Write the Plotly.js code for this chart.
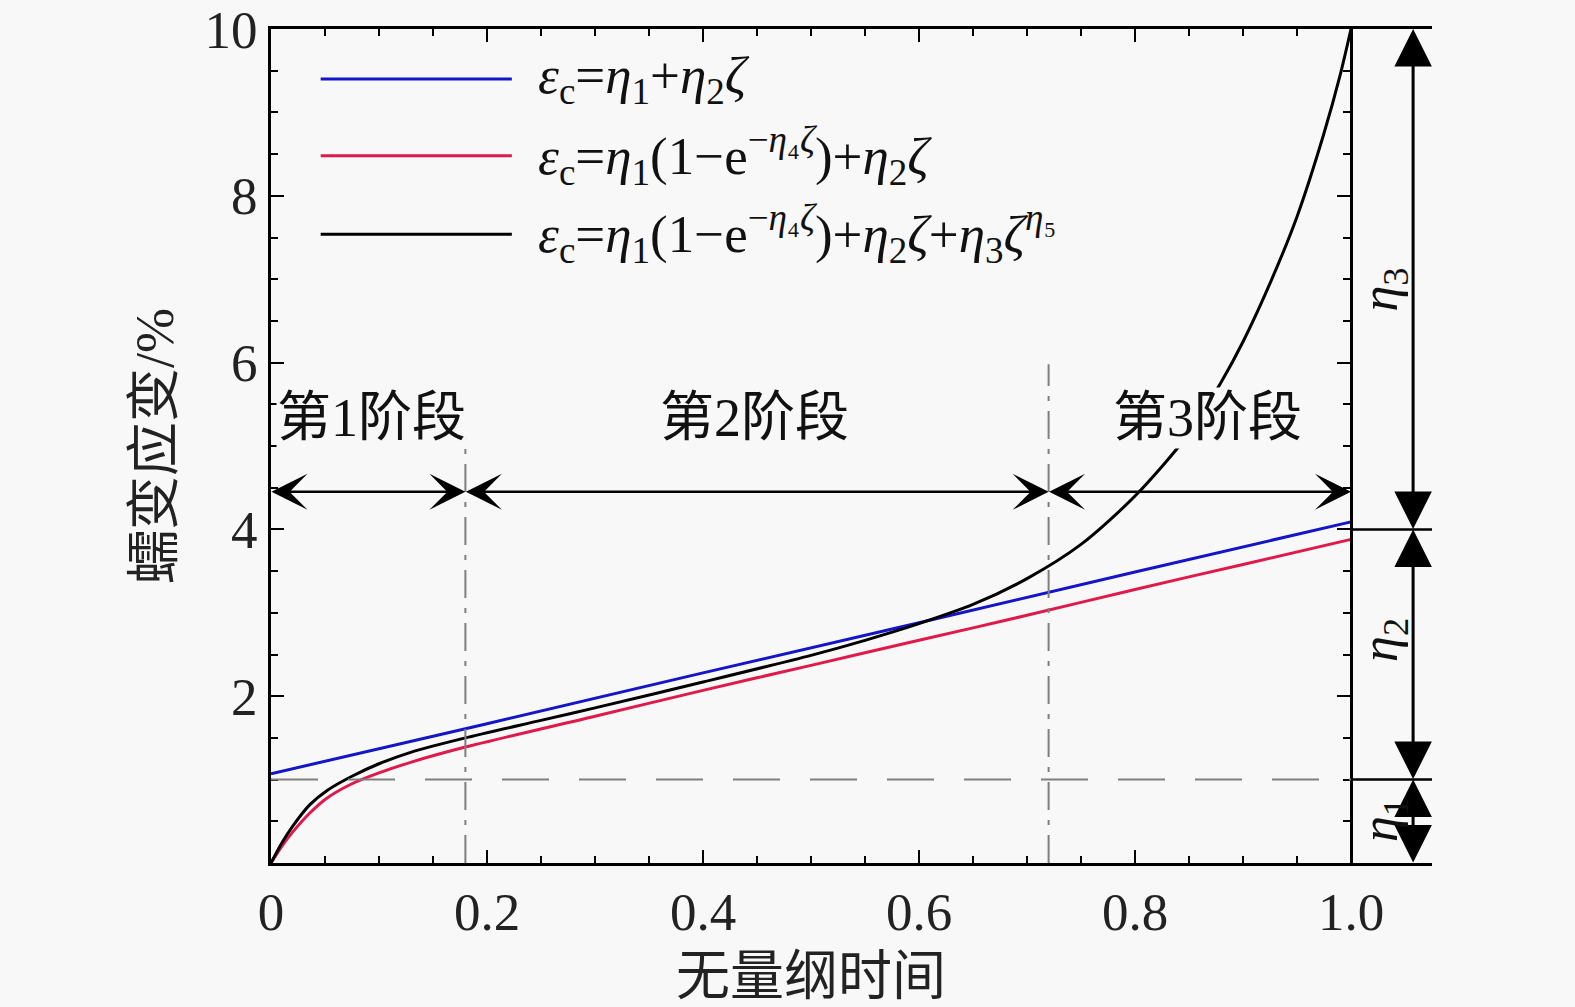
<!DOCTYPE html>
<html>
<head>
<meta charset="utf-8">
<script src="https://cdn.plot.ly/plotly-3.0.1.min.js"></script>
<style>
  html, body { margin: 0; padding: 0; background: #f8f8f8; }
  #chart { width: 1575px; height: 1007px; }
</style>
</head>
<body>
<div id="chart"></div>
<script>
// ---- data ----
const xTickVals = [0, 0.2, 0.4, 0.6, 0.8, 1.0];
const xTickText = ['0', '0.2', '0.4', '0.6', '0.8', '1.0'];
const yTickVals = [2, 4, 6, 8, 10];
const yTickText = ['2', '4', '6', '8', '10'];

// blue: eps = eta1 + eta2*zeta
const blueX = [0, 0.2, 0.4, 0.6, 0.8, 1.0];
const blueY = [1.07, 1.67, 2.28, 2.88, 3.49, 4.09];

// red: eps = eta1(1-exp(-eta4 zeta)) + eta2 zeta
const redX = [0, 0.01, 0.02, 0.036, 0.052, 0.075, 0.1, 0.13, 0.18, 0.3, 0.4, 0.5, 0.6, 0.7, 0.8, 0.9, 1.0];
const redY = [0, 0.20, 0.37, 0.60, 0.78, 0.95, 1.08, 1.21, 1.39, 1.76, 2.07, 2.37, 2.67, 2.97, 3.28, 3.58, 3.88];

// black: full model
const blackX = [0, 0.01, 0.02, 0.036, 0.052, 0.075, 0.1, 0.13, 0.18, 0.25, 0.3, 0.4, 0.5, 0.55, 0.6, 0.65, 0.7, 0.75, 0.8, 0.85, 0.88, 0.9, 0.925, 0.95, 0.975, 0.99, 1.0];
const blackY = [0, 0.24, 0.44, 0.70, 0.87, 1.04, 1.19, 1.33, 1.50, 1.71, 1.86, 2.17, 2.49, 2.67, 2.87, 3.10, 3.41, 3.82, 4.40, 5.15, 5.77, 6.25, 6.95, 7.75, 8.75, 9.45, 10.0];

const seriesNames = [
  '<i>ε</i><sub>c</sub>=<i>η</i><sub>1</sub>+<i>η</i><sub>2</sub><i>ζ</i>',
  '<i>ε</i><sub>c</sub>=<i>η</i><sub>1</sub>(1−e<sup>−<i>η</i>₄<i>ζ</i></sup>)+<i>η</i><sub>2</sub><i>ζ</i>',
  '<i>ε</i><sub>c</sub>=<i>η</i><sub>1</sub>(1−e<sup>−<i>η</i>₄<i>ζ</i></sup>)+<i>η</i><sub>2</sub><i>ζ</i>+<i>η</i><sub>3</sub><i>ζ</i><sup><i>η</i>₅</sup>'
];
const seriesColors = ['#1414c8', '#e0194a', '#000000'];

const stageBounds = [0, 0.18, 0.72, 1.0];
const stageLabels = ['第1阶段', '第2阶段', '第3阶段'];
const stageLabelX = [0.093, 0.448, 0.867];
const stageLabelY = 5.34;
const stageArrowY = 4.45;
const stageLineTop = [5.1, 5.98];

const etaLevels = [0, 1, 4, 10];
const etaLabels = ['<i>η</i><sub>1</sub>', '<i>η</i><sub>2</sub>', '<i>η</i><sub>3</sub>'];
const etaLabelY = [0.52, 2.68, 6.88];

const xTitle = '无量纲时间';
const yTitle = '蠕变应变/%';

// ---- layout helpers ----
const FONT = 'Liberation Serif, "Times New Roman", "Noto Sans CJK SC", serif';
const BG = '#f8f8f8';
const xMax = 1.075;
const arrowX = 1.0575;
const etaTextX = 1.03;
const legendLineX = [0.046, 0.223];
const legendTextX = 0.245;
const legendY = [9.40, 8.48, 7.54];

const minorX = [];
for (let i = 1; i <= 20; i++) { const v = +(i * 0.05).toFixed(2); if (Math.abs(v / 0.2 - Math.round(v / 0.2)) > 1e-6) minorX.push(v); }
const minorY = [];
for (let i = 1; i < 20; i++) { const v = i * 0.5; if (v % 2 !== 0) minorY.push(v); }

const traces = [
  {x: blueX, y: blueY, mode: 'lines', line: {color: seriesColors[0], width: 3}, showlegend: false, hoverinfo: 'skip'},
  {x: redX, y: redY, mode: 'lines', line: {color: seriesColors[1], width: 3, shape: 'spline', smoothing: 0.8}, showlegend: false, hoverinfo: 'skip'},
  {x: blackX, y: blackY, mode: 'lines', line: {color: seriesColors[2], width: 3, shape: 'spline', smoothing: 0.8}, showlegend: false, hoverinfo: 'skip'},
  {x: [1.0, 1.0], y: [0, 10], yaxis: 'y2', mode: 'lines', line: {color: 'rgba(0,0,0,0)', width: 0}, showlegend: false, hoverinfo: 'skip'}
];

const shapes = [];
shapes.push({type: 'line', xref: 'x', yref: 'y', x0: 0, x1: 1.0, y0: etaLevels[1], y1: etaLevels[1],
  line: {color: '#7f7f7f', width: 2, dash: '47px,30px'}});
[1, 2].forEach((k, i) => {
  shapes.push({type: 'line', xref: 'x', yref: 'y', x0: stageBounds[k], x1: stageBounds[k], y0: 0, y1: stageLineTop[i],
    line: {color: '#7f7f7f', width: 2, dash: '28px,10px,5px,10px'}});
});
[1, 2].forEach(k => {
  shapes.push({type: 'line', xref: 'x', yref: 'y', x0: 1.0, x1: xMax, y0: etaLevels[k], y1: etaLevels[k],
    line: {color: '#000', width: 2.5}});
});
legendY.forEach((ly, i) => {
  shapes.push({type: 'line', xref: 'x', yref: 'y', x0: legendLineX[0], x1: legendLineX[1], y0: ly, y1: ly,
    line: {color: seriesColors[i], width: 3}});
});

const annotations = [];
for (let i = 0; i < 3; i++) {
  annotations.push({x: stageBounds[i + 1], y: stageArrowY, ax: stageBounds[i], ay: stageArrowY,
    xref: 'x', yref: 'y', axref: 'x', ayref: 'y', text: '', showarrow: true,
    arrowside: 'end+start', arrowhead: 3, startarrowhead: 3, arrowsize: 2.4, startarrowsize: 2.4,
    arrowwidth: 2.5, arrowcolor: '#000', standoff: 0, startstandoff: 0, borderpad: 0});
}
stageLabels.forEach((t, i) => {
  annotations.push({x: stageLabelX[i], y: stageLabelY, xref: 'x', yref: 'y', text: t, showarrow: false,
    font: {family: FONT, size: 54, color: '#111'}, bgcolor: BG, borderpad: 0, xanchor: 'center', yanchor: 'middle'});
});
for (let i = 0; i < 3; i++) {
  annotations.push({x: arrowX, y: etaLevels[i + 1], ax: arrowX, ay: etaLevels[i],
    xref: 'x', yref: 'y', axref: 'x', ayref: 'y', text: '', showarrow: true,
    arrowside: 'end+start', arrowhead: 2, startarrowhead: 2, arrowsize: 2.5, startarrowsize: 2.5,
    arrowwidth: 3, arrowcolor: '#000', standoff: 0, startstandoff: 0, borderpad: 0});
  annotations.push({x: etaTextX, y: etaLabelY[i], xref: 'x', yref: 'y', text: etaLabels[i], showarrow: false,
    textangle: -90, font: {family: FONT, size: 52, color: '#111'}, xanchor: 'center', yanchor: 'middle'});
}
seriesNames.forEach((n, i) => {
  annotations.push({x: legendTextX, y: legendY[i], xref: 'x', yref: 'y', text: n, showarrow: false,
    font: {family: FONT, size: 53, color: '#111'}, xanchor: 'left', yanchor: 'middle'});
});
annotations.push({x: 0.5, y: -0.137, xref: 'x', yref: 'paper', text: xTitle, showarrow: false,
  font: {family: FONT, size: 54, color: '#222'}, xanchor: 'center', yanchor: 'middle'});
annotations.push({x: -0.1, y: 0.5, xref: 'paper', yref: 'paper', text: yTitle, showarrow: false, textangle: -90,
  font: {family: FONT, size: 54, color: '#222'}, xanchor: 'center', yanchor: 'middle'});

const layout = {
  width: 1575, height: 1007,
  margin: {l: 271, r: 143, t: 29, b: 144},
  paper_bgcolor: BG, plot_bgcolor: BG,
  showlegend: false,
  xaxis: {
    range: [0, xMax], tickmode: 'array', tickvals: xTickVals, ticktext: xTickText,
    ticks: 'inside', ticklen: 13, tickwidth: 2, tickcolor: '#000',
    minor: {tickmode: 'array', tickvals: minorX, ticks: 'inside', ticklen: 7, tickwidth: 2, tickcolor: '#000'},
    showline: true, linewidth: 3, linecolor: '#000', mirror: 'ticks',
    showgrid: false, zeroline: false, ticklabelstandoff: 0,
    tickfont: {family: FONT, size: 53, color: '#222'}, fixedrange: true
  },
  yaxis: {
    range: [0, 10], tickmode: 'array', tickvals: yTickVals, ticktext: yTickText,
    ticks: 'inside', ticklen: 13, tickwidth: 2, tickcolor: '#000',
    minor: {tickmode: 'array', tickvals: minorY, ticks: 'inside', ticklen: 7, tickwidth: 2, tickcolor: '#000'},
    showline: true, linewidth: 3, linecolor: '#000',
    showgrid: false, zeroline: false, ticklabelstandoff: 0,
    tickfont: {family: FONT, size: 53, color: '#222'}, fixedrange: true
  },
  yaxis2: {
    overlaying: 'y', anchor: 'free', position: 1.0 / xMax, side: 'right',
    range: [0, 10], tickmode: 'array', tickvals: [2, 4, 6, 8], showticklabels: false,
    ticks: 'inside', ticklen: 13, tickwidth: 2, tickcolor: '#000',
    minor: {tickmode: 'array', tickvals: minorY, ticks: 'inside', ticklen: 7, tickwidth: 2, tickcolor: '#000'},
    showline: true, linewidth: 3, linecolor: '#000', showgrid: false, zeroline: false, fixedrange: true
  },
  shapes: shapes,
  annotations: annotations
};

Plotly.newPlot('chart', traces, layout, {staticPlot: true, displayModeBar: false});
</script>
</body>
</html>
